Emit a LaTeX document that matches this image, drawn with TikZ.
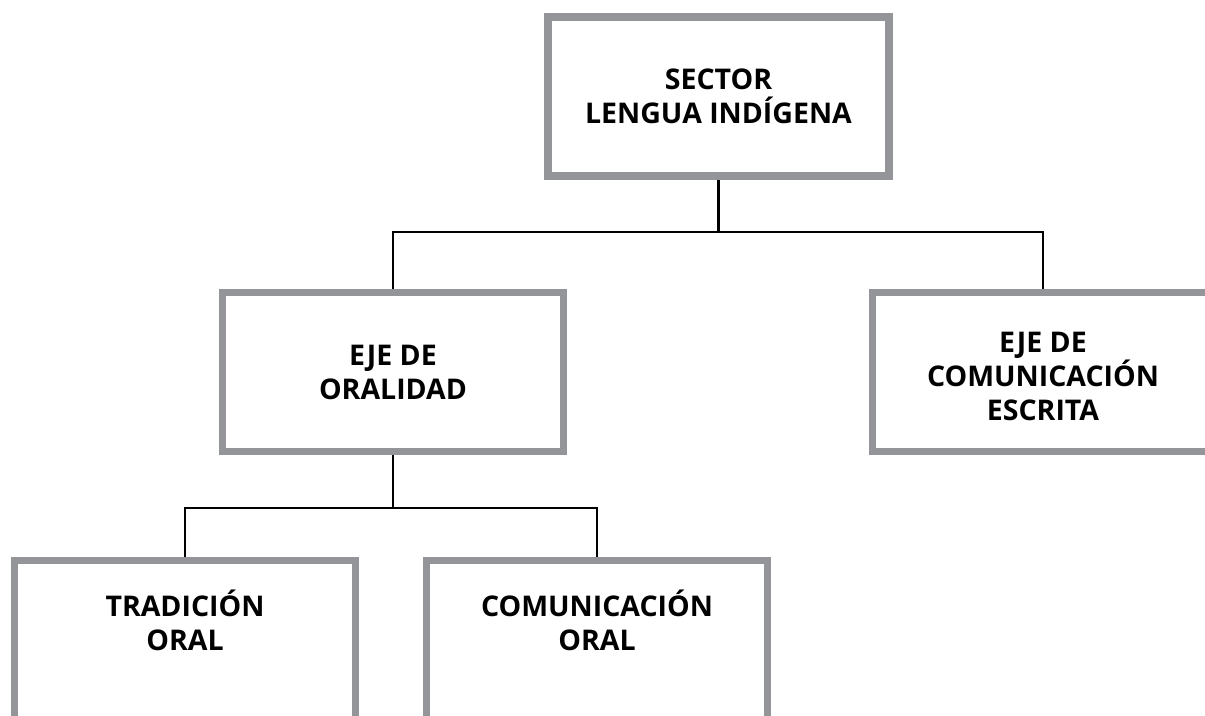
\documentclass[tikz,border=0pt]{standalone}
\usepackage{fontspec}
\setmainfont{Open Sans}
\usepackage{xcolor}
\definecolor{boxgray}{RGB}{147,149,152}

\begin{document}
\begin{tikzpicture}[x=1pt, y=-1pt,
      font=\fontsize{28.5}{34}\selectfont\bfseries,
      ejebox/.style={rectangle, draw=boxgray, line width=7.8pt, minimum width=341pt, minimum height=159pt, align=center, fill=white},
      ejetxt/.style={align=center, inner sep=0pt},
      conn/.style={draw=black, line width=2.3pt}]
      \useasboundingbox (0,0) rectangle (1205,715);
      \clip (0,0) rectangle (1205,715);

      \node[ejebox, name=sector] at (718.5,96.5) {SECTOR\\LENGUA INDÍGENA};
      \node[ejebox, name=oralidad] at (393,372) {EJE DE\\ORALIDAD};
      \node[ejebox, name=escrita, label={[ejetxt, yshift=-4pt]center:{EJE DE\\COMUNICACIÓN\\ESCRITA}}] at (1043,372) {};
      \node[ejebox, name=tradicion, label={[ejetxt, yshift=20pt]center:{TRADICIÓN\\ORAL}}] at (185,640) {};
      \node[ejebox, name=comunic, label={[ejetxt, yshift=20pt]center:{COMUNICACIÓN\\ORAL}}] at (597,640) {};

      \coordinate (j1) at (718.5,232);
      \coordinate (j2) at (393,508);

      \draw[conn] (sector.south) -- (j1);
      \draw[conn] (oralidad.north) |- (j1);
      \draw[conn] (escrita.north) |- (j1);
      \draw[conn] (oralidad.south) -- (j2);
      \draw[conn] (tradicion.north) |- (j2);
      \draw[conn] (comunic.north) |- (j2);
   \end{tikzpicture}
\end{document}
